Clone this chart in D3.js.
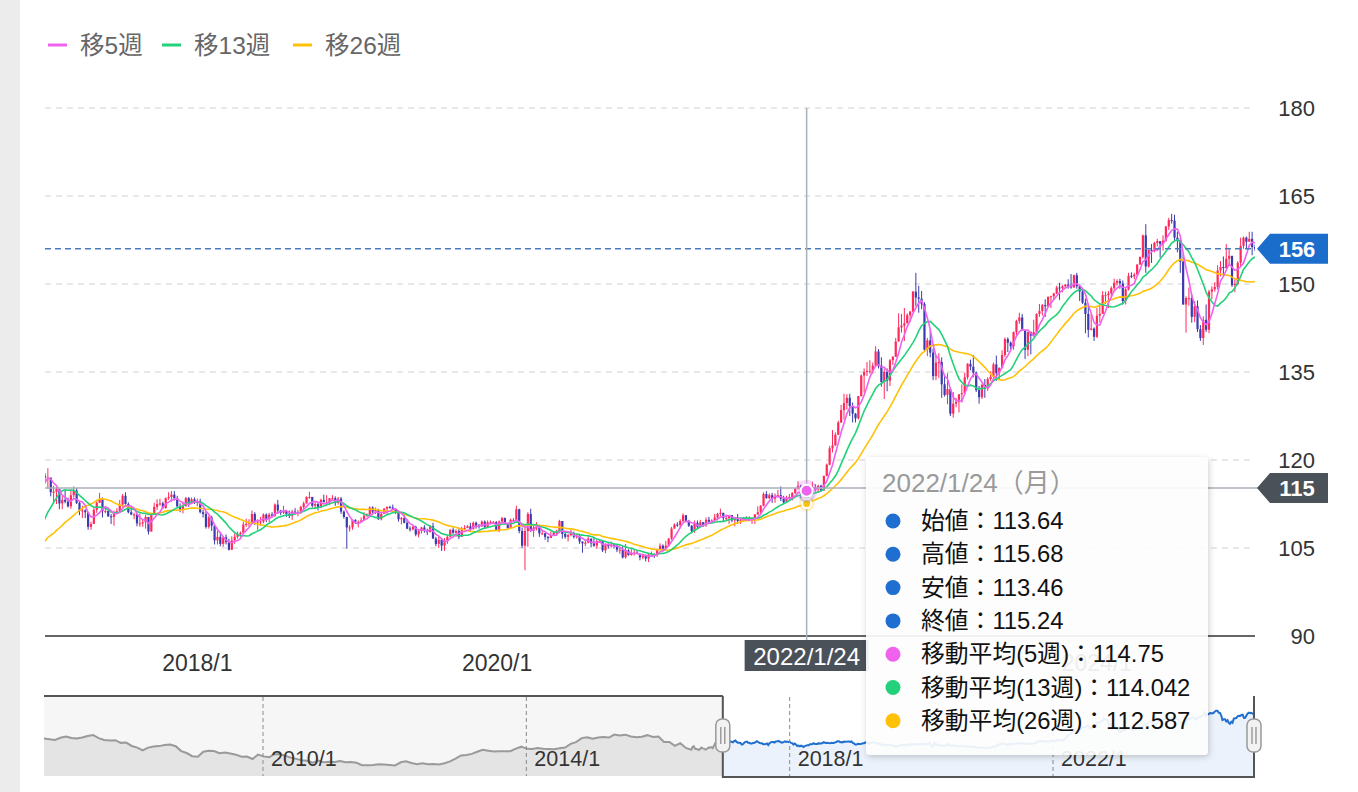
<!DOCTYPE html>
<html><head><meta charset="utf-8">
<script src="https://cdn.jsdelivr.net/npm/d3@7"></script>
<style>
html,body{margin:0;padding:0;background:#fff;}
svg{display:block;font-family:"Liberation Sans","Noto Sans CJK JP",sans-serif;}
</style></head><body>
<svg id="c" width="1358" height="792"></svg>
<script>
// ===== DATA =====
const weekStart = "2016-07-04";            // first weekly candle (Monday)
// weekly [high, low, close]; open = previous close
const w2016 = [[102.8,99.9,100.5],[106.3,100.6,104.8],[107.5,104.0,106.1],[106.5,101.9,102.1],[102.8,100.7,101.8],[102.6,100.8,101.3],[101.4,99.5,100.2],[102.1,99.8,101.8],[104.2,101.9,103.9],[103.2,101.2,102.7],[102.8,101.7,102.3],[102.8,100.1,101.0],[101.8,100.1,101.3],[104.0,101.2,102.9],[104.6,102.8,104.2],[104.2,103.0,103.8],[105.5,103.8,104.7],[105.0,101.8,103.1],[106.9,101.2,106.6],[111.0,106.4,110.9],[113.9,110.7,113.2],[114.8,111.4,113.5],[115.4,112.9,115.3],[118.7,114.6,117.9],[118.3,116.6,117.3],[117.8,116.0,117.0]];
const w2017 = [[118.6,115.1,117.0],[116.9,113.8,114.5],[115.6,112.6,114.6],[115.4,112.5,115.1],[115.0,111.6,112.6],[113.9,111.6,113.2],[114.9,112.6,112.9],[113.6,111.9,112.1],[114.7,111.7,114.0],[115.5,113.6,114.8],[115.2,112.5,112.7],[112.9,110.6,111.3],[112.2,110.1,111.4],[111.6,110.1,111.1],[111.2,108.1,108.6],[109.5,108.1,109.1],[111.8,109.3,111.5],[113.0,111.0,112.7],[114.4,113.0,113.3],[113.6,110.2,111.3],[112.1,110.9,111.3],[111.7,110.3,110.4],[110.8,109.1,110.3],[111.4,108.8,110.9],[111.8,110.9,111.3],[113.2,111.0,112.4],[114.2,112.0,113.9],[114.5,112.4,112.5],[112.8,110.9,111.1],[112.2,110.6,110.7],[111.0,109.9,110.7],[110.9,108.7,109.2],[110.9,108.6,109.2],[109.8,108.6,109.4],[110.7,108.3,110.3],[110.0,107.3,107.8],[111.0,107.8,110.8],[112.7,110.8,112.0],[113.3,111.5,112.5],[113.4,112.2,112.6],[112.9,111.7,111.8],[113.6,111.7,113.5],[114.5,113.2,113.7],[114.7,112.9,114.1],[114.7,113.1,113.5],[113.9,112.0,112.1],[112.6,111.1,111.5],[112.9,110.9,112.2],[113.7,112.0,113.5],[113.7,112.0,112.6],[113.6,112.5,113.3],[113.6,112.5,112.7]];
const w2018 = [[113.4,112.1,113.0],[113.4,110.9,111.1],[111.5,110.2,110.8],[111.2,108.3,108.6],[110.5,108.3,110.2],[110.5,107.9,108.8],[108.9,105.6,106.3],[107.9,105.6,106.9],[107.7,105.3,105.7],[107.0,105.2,106.8],[107.3,105.6,106.0],[106.6,104.6,104.7],[107.0,104.7,106.3],[107.5,105.7,106.9],[107.8,106.6,107.4],[107.8,106.9,107.6],[109.5,107.5,109.0],[110.0,108.6,109.1],[109.9,108.6,109.4],[111.4,109.3,110.8],[111.1,108.9,109.4],[109.9,108.1,109.5],[110.3,108.9,109.5],[110.9,109.2,110.7],[110.9,109.4,110.0],[111.0,109.4,110.7],[111.1,110.3,110.5],[112.6,110.3,112.4],[113.2,110.8,111.4],[111.5,110.6,111.0],[112.2,110.8,111.3],[111.5,110.3,110.8],[111.4,110.1,110.5],[111.5,109.8,111.2],[111.8,110.7,111.0],[111.5,110.4,111.0],[112.2,110.8,112.0],[112.9,111.6,112.6],[113.8,112.6,113.7],[114.6,113.4,113.7],[113.6,111.9,112.2],[112.9,111.6,112.5],[112.9,111.4,111.9],[113.4,111.8,113.2],[114.1,112.8,112.8],[114.0,112.2,112.8],[113.5,112.3,113.5],[114.0,113.2,113.5],[113.8,112.2,112.7],[113.7,112.4,113.4],[113.7,110.8,111.2],[111.4,110.0,110.3],[110.0,104.9,108.5]];
const w2019 = [[108.9,107.8,108.5],[109.9,108.1,109.8],[109.9,109.1,109.5],[109.7,108.5,109.5],[110.2,109.4,109.7],[111.1,109.9,110.5],[110.9,110.3,110.7],[112.1,110.4,111.9],[112.1,110.8,111.2],[111.9,110.8,111.5],[111.7,109.8,109.9],[111.0,109.7,110.8],[111.8,110.8,111.7],[112.1,110.8,112.0],[112.2,111.7,111.9],[112.4,111.4,111.6],[111.7,110.8,111.1],[111.2,109.5,109.9],[110.3,109.0,110.1],[110.7,109.2,109.3],[109.9,108.2,108.3],[108.7,107.8,108.2],[108.8,108.0,108.6],[108.8,107.0,107.3],[108.2,106.8,107.9],[108.6,107.5,108.5],[108.9,107.6,107.9],[108.3,107.2,107.7],[108.9,107.8,108.7],[109.3,106.6,106.6],[106.9,105.3,105.7],[106.9,105.0,106.4],[106.7,104.5,105.4],[106.7,104.5,106.3],[107.2,105.7,106.9],[108.2,106.8,108.1],[108.5,107.4,107.6],[108.2,106.9,107.9],[108.5,106.5,106.9],[108.6,106.9,108.3],[108.9,108.1,108.4],[108.9,108.4,108.7],[109.3,107.9,108.2],[109.5,108.3,109.3],[109.5,108.3,108.8],[109.1,108.3,108.7],[109.7,108.6,109.5],[109.7,108.4,108.6],[109.7,108.4,109.4],[109.7,109.2,109.4],[109.6,109.3,109.4],[109.6,107.9,108.1]];
const w2020 = [[109.7,107.7,109.5],[110.3,109.4,110.1],[110.2,109.0,109.3],[109.3,108.3,108.4],[110.0,108.3,109.8],[110.1,109.6,109.8],[112.2,109.7,111.6],[111.7,107.5,107.9],[108.5,105.0,105.4],[108.5,101.2,107.9],[111.1,105.2,110.8],[111.7,107.7,107.9],[108.8,106.9,108.5],[109.4,108.0,108.5],[108.1,106.9,107.5],[108.1,107.2,107.5],[107.6,106.4,106.9],[107.0,106.0,106.7],[107.8,106.8,107.1],[107.9,107.2,107.6],[108.1,107.1,107.8],[109.8,107.6,109.6],[109.6,106.6,107.4],[107.6,106.6,106.9],[107.4,106.1,107.2],[108.2,107.0,107.5],[107.8,106.6,106.9],[107.4,106.6,107.0],[107.4,105.7,106.1],[106.1,104.2,105.8],[106.4,105.3,105.9],[107.0,105.8,106.6],[106.6,105.1,105.8],[106.9,105.2,105.4],[106.5,104.9,106.2],[106.4,105.9,106.2],[106.1,104.3,104.6],[105.8,104.1,105.6],[105.8,104.9,105.3],[106.1,105.1,105.6],[105.7,104.9,105.4],[105.5,104.3,104.7],[105.1,104.0,104.7],[105.3,103.2,103.4],[105.7,103.2,104.6],[104.8,103.7,103.8],[104.8,103.7,104.1],[104.7,103.7,104.2],[104.5,103.9,104.0],[104.1,102.9,103.4],[104.0,103.1,103.7],[103.9,102.7,103.2]];
const w2021 = [[104.1,102.6,103.9],[104.4,103.5,103.9],[104.1,103.3,103.8],[104.9,103.5,104.7],[105.8,104.6,105.4],[105.6,104.4,104.9],[106.2,104.9,105.4],[106.7,105.2,106.6],[108.6,106.4,108.3],[109.2,108.3,109.0],[109.4,108.6,108.9],[109.9,108.4,109.6],[110.9,109.4,110.6],[110.6,109.4,109.6],[109.8,108.6,108.8],[108.9,107.5,107.9],[109.7,107.6,109.3],[109.7,108.3,108.6],[109.8,108.5,109.4],[109.4,108.6,108.9],[110.2,108.6,109.8],[110.3,109.3,109.5],[109.9,109.2,109.7],[110.8,109.7,110.2],[111.0,109.7,110.8],[111.7,110.4,111.0],[111.0,109.5,110.1],[110.7,109.7,110.1],[110.6,109.1,110.6],[110.6,109.4,109.7],[110.3,108.7,110.2],[110.8,109.1,109.6],[110.2,109.1,109.8],[110.3,109.6,109.8],[110.4,109.6,109.7],[110.4,109.6,109.9],[110.1,109.1,109.9],[110.8,109.1,110.7],[112.1,110.9,111.1],[112.3,110.8,112.2],[114.5,112.1,114.2],[114.7,113.4,113.5],[114.3,113.3,114.0],[114.4,112.7,113.4],[114.3,112.7,113.9],[114.9,113.6,114.0],[115.5,113.0,113.4],[113.9,112.5,112.8],[113.9,112.9,113.4],[114.2,113.1,113.7],[114.5,113.1,114.4],[115.2,114.2,115.1]];
const w2022 = [[116.4,115.0,115.6],[115.8,113.5,114.2],[114.9,113.5,113.7],[115.68,113.46,115.24],[115.6,114.2,115.2],[116.3,114.9,115.4],[115.9,114.6,115.0],[115.8,114.4,115.6],[115.8,114.6,114.8],[117.3,114.8,117.3],[119.4,117.2,119.2],[122.4,119.1,122.0],[125.1,121.3,122.5],[124.7,122.4,124.3],[126.7,124.4,126.4],[129.4,126.3,128.5],[131.3,126.9,129.7],[131.2,128.6,130.6],[131.3,127.5,129.2],[129.8,126.4,127.9],[128.0,126.4,127.1],[130.9,126.9,130.9],[134.6,130.8,134.4],[135.6,131.5,135.0],[136.7,134.3,135.2],[137.0,134.7,135.2],[136.6,134.7,136.1],[139.4,136.0,138.5],[138.9,135.6,136.1],[137.5,132.5,133.3],[135.6,130.4,135.0],[135.6,131.7,133.5],[137.2,132.6,137.0],[137.7,136.2,137.6],[140.8,137.7,140.2],[145.0,140.2,142.6],[144.9,141.7,142.9],[145.9,140.3,143.3],[145.0,143.3,144.7],[145.4,143.5,145.3],[148.8,145.2,148.7],[151.9,146.2,147.7],[149.7,145.1,147.5],[148.8,145.7,146.6],[146.9,138.5,138.8],[140.8,137.7,140.4],[142.2,137.5,138.3],[139.0,133.6,134.3],[137.9,133.6,136.6],[138.2,134.0,136.7],[137.5,130.6,132.9],[134.4,130.8,131.1]];
const w2023 = [[134.8,129.5,132.1],[132.3,127.5,127.9],[131.6,127.2,129.6],[130.6,129.0,129.9],[131.2,128.1,131.2],[132.9,129.8,131.4],[134.9,131.2,134.1],[136.5,133.7,136.4],[137.1,135.3,135.9],[137.9,134.1,134.9],[135.1,131.6,131.9],[132.6,129.6,130.7],[133.0,130.4,132.8],[133.8,130.6,132.2],[134.1,131.8,133.8],[135.1,133.5,134.2],[136.6,133.3,136.3],[137.8,133.5,134.8],[135.8,133.7,135.7],[138.7,135.6,137.9],[140.9,137.5,140.6],[140.9,138.4,140.0],[140.2,138.8,139.4],[141.9,138.8,141.8],[143.9,141.0,143.7],[145.1,143.2,144.3],[144.9,142.1,142.1],[142.0,137.2,138.8],[141.9,137.7,141.8],[141.9,138.0,141.2],[143.9,141.5,141.8],[145.0,141.5,144.9],[146.6,144.4,145.4],[146.6,144.6,146.4],[147.4,144.4,146.2],[147.9,146.0,147.8],[148.0,145.9,147.9],[148.5,147.3,148.4],[149.7,148.3,149.4],[150.2,147.3,149.3],[149.8,148.6,149.6],[150.0,149.3,149.9],[150.8,149.2,149.7],[151.7,149.2,149.4],[151.6,149.4,151.5],[151.9,149.2,149.6],[149.7,147.1,148.7],[149.0,146.6,146.8],[147.5,141.6,144.9],[146.6,140.9,142.2],[144.9,142.1,142.4],[142.6,140.3,141.0]];
const w2024 = [[145.9,140.8,144.6],[146.4,143.4,144.9],[148.8,144.9,148.1],[148.7,146.6,148.1],[148.8,145.9,148.4],[149.6,147.6,149.3],[150.9,148.8,150.2],[150.8,149.7,150.5],[150.9,149.2,150.1],[150.6,146.5,147.1],[149.3,146.5,149.1],[151.9,148.9,151.4],[151.97,151.0,151.3],[151.9,150.8,151.6],[153.4,151.5,153.3],[154.7,153.3,154.6],[158.4,154.3,158.3],[160.2,151.9,153.0],[155.9,152.8,155.8],[156.8,153.6,155.6],[157.2,155.4,157.0],[157.7,156.4,157.3],[157.0,154.5,156.8],[158.3,155.7,157.4],[159.9,157.2,159.8],[161.3,159.2,160.9],[161.95,160.3,160.8],[161.8,157.4,157.9],[158.9,155.4,157.5],[157.8,151.9,153.8],[155.2,146.5,146.5],[147.9,141.7,147.6],[149.4,146.3,147.6],[148.3,143.4,144.4],[147.1,143.5,146.2],[147.2,141.8,142.3],[143.0,140.3,140.8],[144.5,139.6,143.9],[146.5,141.8,142.2],[149.0,141.6,148.7],[149.6,147.4,149.1],[150.3,148.7,149.5],[153.2,149.1,152.3],[153.9,151.3,152.9],[154.7,151.3,152.7],[156.8,152.6,154.3],[155.9,153.2,154.8],[154.5,149.5,149.8],[151.0,148.6,150.0],[153.9,149.8,153.6],[157.9,153.0,156.5],[158.1,156.0,157.9],[158.1,156.1,157.2]];
const w2025 = [[158.9,157.2,157.7],[158.9,154.9,156.3],[156.7,155.6,156.0]];

// navigator history before the weekly data: monthly closes 2006/9 - 2016/6
const navStart = "2006-09-04";
const navMonthly = [118.0,116.9,115.8,119.0,
 121.0,118.6,117.8,119.5,121.7,123.2,118.6,115.8,114.8,115.3,111.2,111.7,
 106.4,103.8,99.7,103.9,105.5,106.2,107.9,108.8,106.0,98.5,95.5,90.6,
 89.9,97.6,98.9,98.6,95.3,96.4,94.7,93.0,89.8,90.1,86.3,93.0,
 90.3,88.9,93.5,94.0,91.3,88.4,86.5,84.2,83.5,80.4,83.7,81.1,
 82.1,81.8,83.1,81.2,81.5,80.5,76.7,76.6,77.0,78.2,77.6,76.9,
 76.3,81.2,82.8,80.0,78.3,79.8,78.1,78.4,77.9,79.8,82.5,86.7,
 91.7,92.6,94.2,97.4,100.5,99.1,97.9,98.2,98.3,98.4,102.4,105.3,
 102.0,101.8,103.2,102.2,101.8,101.3,102.8,104.1,109.7,112.3,118.6,119.8,
 117.5,119.6,120.1,119.4,124.1,122.5,123.9,121.2,119.9,120.6,123.1,120.2,
 121.1,112.7,112.6,106.5,110.7,103.3];

const viewRange = ["2016-12-26","2025-01-20"];
const yTicks = [90,105,120,135,150,165,180];
const xTickYears = [2018,2020,2024];      // 2022/1 sits under the crosshair date label
const navTickYears = [2010,2014,2018,2022];
const maPeriods = [5,13,26];
const legendLabels = ["移5週","移13週","移26週"];
const maColors = ["#ee62ee","#22d17a","#ffc107"];
const crossDate = "2022-01-24";
const crossLabel = "2022/1/24";
const tipTitle = "2022/1/24（月）";
const tipRows = [["始値","113.64"],["高値","115.68"],["安値","113.46"],["終値","115.24"],["移動平均(5週)","114.75"],["移動平均(13週)","114.042"],["移動平均(26週)","112.587"]];
const tipDotColors = ["#1f6fd0","#1f6fd0","#1f6fd0","#1f6fd0","#ee62ee","#22d17a","#ffc107"];

// ===== BUILD =====
const P = d3.utcParse("%Y-%m-%d");
const fmtD = d3.utcFormat("%Y-%m-%d");
const rows = [w2016,w2017,w2018,w2019,w2020,w2021,w2022,w2023,w2024,w2025].flat();
const t0 = P(weekStart);
const data = rows.map((r,i)=>({date:d3.utcDay.offset(t0,7*i),high:r[0],low:r[1],close:r[2]}));
data.forEach((d,i)=>{
  d.open = i ? data[i-1].close : d.close;
  if (fmtD(d.date)===crossDate) d.open = +tipRows[0][1];
  d.high = Math.max(d.high,d.open,d.close); d.low = Math.min(d.low,d.open,d.close);
});
const mas = maPeriods.map(n=>data.map((d,i)=>i>=n-1?d3.mean(data.slice(i-n+1,i+1),e=>e.close):null));

const svg = d3.select("#c");
const defs = svg.append("defs");
defs.append("clipPath").attr("id","plot").append("rect").attr("x",45).attr("y",90).attr("width",1210).attr("height",546);
const f = defs.append("filter").attr("id","sh").attr("x","-10%").attr("y","-10%").attr("width","130%").attr("height","130%");
f.append("feDropShadow").attr("dx",1).attr("dy",2).attr("stdDeviation",3).attr("flood-color","#000").attr("flood-opacity",0.22);

// page left strip
svg.append("rect").attr("x",0).attr("y",0).attr("width",20).attr("height",792).attr("fill","#ececec");

const x = d3.scaleUtc().domain(viewRange.map(P)).range([45,1255]);
const y = d3.scaleLinear().domain([90,180]).range([636,108]);

// legend
const lg = svg.append("g");
const legX = [48,162,293];
legendLabels.forEach((t,i)=>{
  lg.append("line").attr("x1",legX[i]).attr("x2",legX[i]+19).attr("y1",45).attr("y2",45).attr("stroke",maColors[i]).attr("stroke-width",3);
  lg.append("text").attr("x",legX[i]+32).attr("y",45).attr("dy","0.36em").attr("font-size",24.5).attr("fill","#666").text(t);
});

// grid
const grid = svg.append("g");
yTicks.filter(v=>v>90).forEach(v=>{
  grid.append("line").attr("x1",45).attr("x2",1250).attr("y1",y(v)).attr("y2",y(v)).attr("stroke","#d0d0d0").attr("stroke-dasharray","6,5").attr("stroke-width",1);
});
// y labels
const yl = svg.append("g");
yTicks.forEach(v=>{
  yl.append("text").attr("x",1315).attr("y",y(v)).attr("dy","0.36em").attr("text-anchor","end").attr("font-size",22).attr("fill","#333").text(v);
});

// candles
const plot = svg.append("g").attr("clip-path","url(#plot)");
const up="#ff2a5c", dn="#3b3bb0";
plot.append("g").selectAll("line").data(data).join("line")
  .attr("x1",d=>x(d.date)).attr("x2",d=>x(d.date)).attr("y1",d=>y(d.high)).attr("y2",d=>y(d.low))
  .attr("stroke",d=>d.close>=d.open?up:dn).attr("stroke-width",1);
plot.append("g").selectAll("rect").data(data).join("rect")
  .attr("x",d=>x(d.date)-1.1).attr("width",2.2)
  .attr("y",d=>y(Math.max(d.open,d.close))).attr("height",d=>Math.max(1,Math.abs(y(d.open)-y(d.close))))
  .attr("fill",d=>d.close>=d.open?up:dn);
// MAs
[2,1,0].forEach(k=>{
  const line = d3.line().defined((d,i)=>mas[k][i]!=null).x(d=>x(d.date)).y((d,i)=>y(mas[k][i]));
  plot.append("path").datum(data).attr("d",line).attr("fill","none").attr("stroke",maColors[k]).attr("stroke-width",1.6);
});

// axis line
svg.append("line").attr("x1",45).attr("x2",1255).attr("y1",636).attr("y2",636).attr("stroke","#333").attr("stroke-width",1.5);
// x labels
xTickYears.forEach(yr=>{
  svg.append("text").attr("x",x(new Date(Date.UTC(yr,0,1)))).attr("y",663).attr("dy","0.36em").attr("text-anchor","middle").attr("font-size",23).attr("fill","#333").text(yr+"/1");
});

// current price line
const last = data[data.length-1];
svg.append("line").attr("x1",45).attr("x2",1255).attr("y1",y(last.close)).attr("y2",y(last.close)).attr("stroke","#4b7bbb").attr("stroke-width",1.4).attr("stroke-dasharray","6,4");

// crosshair
const ci = data.findIndex(d=>fmtD(d.date)===crossDate);
const cd = data[ci];
const cx = x(cd.date);
svg.append("line").attr("x1",cx).attr("x2",cx).attr("y1",108).attr("y2",640).attr("stroke","#a8b0b8").attr("stroke-width",1.5);
svg.append("line").attr("x1",45).attr("x2",1258).attr("y1",y(cd.close)).attr("y2",y(cd.close)).attr("stroke","#a8b0b8").attr("stroke-width",1.5);
// markers
[2,1,0].forEach(k=>{
  const my = y(mas[k][ci]);
  svg.append("circle").attr("cx",cx).attr("cy",my).attr("r",k===0?11:8).attr("fill",maColors[k]).attr("opacity",0.25);
  svg.append("circle").attr("cx",cx).attr("cy",my).attr("r",k===0?6:4.5).attr("fill",maColors[k]).attr("stroke","#fff").attr("stroke-width",2);
});

// tags
function tag(val, color, txt){
  const yy = y(val);
  const g = svg.append("g");
  g.append("path").attr("d",`M1257,${yy} L1270,${yy-15} L1328,${yy-15} L1328,${yy+15} L1270,${yy+15} Z`).attr("fill",color);
  g.append("text").attr("x",1297).attr("y",yy).attr("dy","0.36em").attr("text-anchor","middle").attr("font-size",22).attr("font-weight","bold").attr("fill","#fff").text(txt);
}
tag(last.close,"#1b6dcc",d3.format(".0f")(last.close));
tag(cd.close,"#4b5159",d3.format(".0f")(cd.close));

// crosshair date label
svg.append("rect").attr("x",cx-62).attr("y",640).attr("width",124).attr("height",31).attr("fill","#4b5159");
svg.append("text").attr("x",cx).attr("y",656).attr("dy","0.36em").attr("text-anchor","middle").attr("font-size",24).attr("fill","#fff").text(crossLabel);

// ===== NAVIGATOR =====
const navT0 = P(navStart);
const navData = navMonthly.map((v,i)=>({date:d3.utcMonth.offset(navT0,i),v}))
  .concat(data.map(d=>({date:d.date,v:d.close})));
const nx = d3.scaleUtc().domain([navT0,last.date]).range([44,1254]);
const ny = d3.scaleLinear().domain([60,162]).range([776,710]);
const selL = nx(P(viewRange[0])), selR = nx(P(viewRange[1]));
defs.append("clipPath").attr("id","navL").append("rect").attr("x",44).attr("y",690).attr("width",selL-44).attr("height",90);
defs.append("clipPath").attr("id","navR").append("rect").attr("x",selL).attr("y",690).attr("width",selR-selL).attr("height",90);
const nav = svg.append("g");
nav.append("rect").attr("x",44).attr("y",696).attr("width",selL-44).attr("height",80).attr("fill","#f6f6f6");
const area = d3.area().x(d=>nx(d.date)).y0(776).y1(d=>ny(d.v));
const nline = d3.line().x(d=>nx(d.date)).y(d=>ny(d.v));
const gL = nav.append("g").attr("clip-path","url(#navL)");
gL.append("path").datum(navData).attr("d",area).attr("fill","#e4e4e4");
gL.append("path").datum(navData).attr("d",nline).attr("fill","none").attr("stroke","#9a9a9a").attr("stroke-width",2);
const gR = nav.append("g").attr("clip-path","url(#navR)");
gR.append("path").datum(navData).attr("d",area).attr("fill","#ebf2fb");
gR.append("path").datum(navData).attr("d",nline).attr("fill","none").attr("stroke","#1f6fd0").attr("stroke-width",2);
// nav grid + labels
navTickYears.forEach(yr=>{
  const gx = nx(new Date(Date.UTC(yr,0,1)));
  nav.append("line").attr("x1",gx).attr("x2",gx).attr("y1",697).attr("y2",776).attr("stroke","#8a8a8a").attr("stroke-dasharray","4,3").attr("stroke-width",1);
  nav.append("text").attr("x",gx+8).attr("y",758).attr("dy","0.36em").attr("font-size",21.5).attr("fill","#333").text(yr+"/1");
});
// outlines
nav.append("line").attr("x1",44).attr("x2",selL).attr("y1",696).attr("y2",696).attr("stroke","#555").attr("stroke-width",2);
nav.append("path").attr("d",`M${selL},696 L${selL},777 L${selR},777 L${selR},696`).attr("fill","none").attr("stroke","#555").attr("stroke-width",2);
// handles
[selL,selR].forEach(hx=>{
  nav.append("rect").attr("x",hx-7).attr("y",719).attr("width",14).attr("height",33).attr("rx",6).attr("fill","#f2f2f2").attr("stroke","#999").attr("stroke-width",1.5);
  nav.append("line").attr("x1",hx-2).attr("x2",hx-2).attr("y1",727).attr("y2",744).attr("stroke","#888").attr("stroke-width",1.2);
  nav.append("line").attr("x1",hx+2).attr("x2",hx+2).attr("y1",727).attr("y2",744).attr("stroke","#888").attr("stroke-width",1.2);
});

// ===== TOOLTIP =====
const tip = svg.append("g");
tip.append("rect").attr("x",866).attr("y",457).attr("width",342).attr("height",298).attr("rx",4)
  .attr("fill","#fff").attr("fill-opacity",0.9).attr("filter","url(#sh)");
tip.append("text").attr("x",882).attr("y",492).attr("font-size",26).attr("fill","#9a9a9a").text(tipTitle);
tipRows.forEach((r,i)=>{
  const by = 529 + i*33.3;
  tip.append("circle").attr("cx",893).attr("cy",by-8).attr("r",7.5).attr("fill",tipDotColors[i]);
  tip.append("text").attr("x",921).attr("y",by).attr("font-size",23.8).attr("fill","#111").text(r[0]+"："+r[1]);
});
</script>
</body></html>
